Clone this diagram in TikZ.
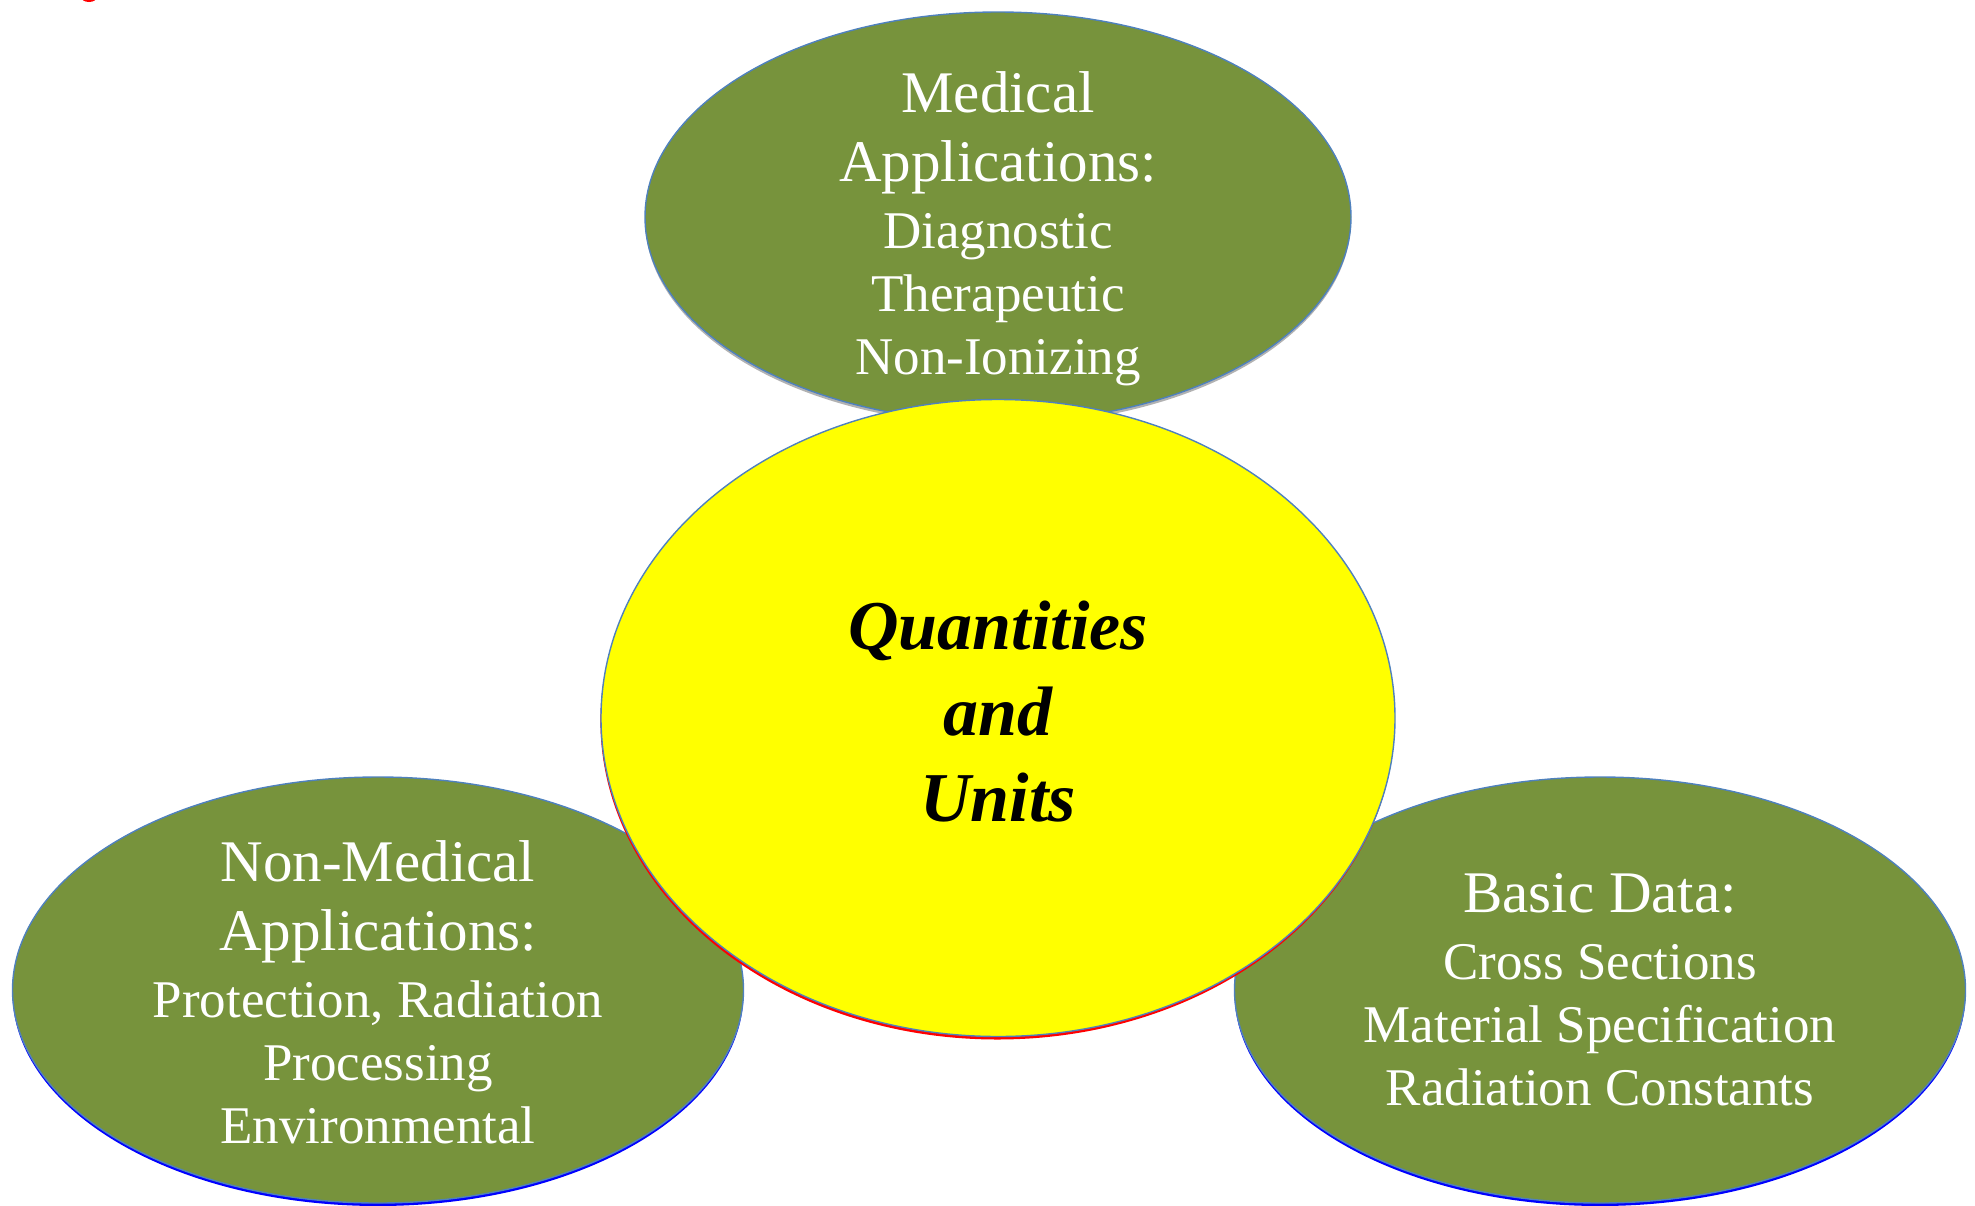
\documentclass[tikz,border=0pt]{standalone}
\usepackage{fontspec}
\setmainfont{Liberation Serif}
\usetikzlibrary{shapes.geometric,shadows}
\definecolor{olive}{HTML}{77933C}
\definecolor{edgeblue}{HTML}{4F81BD}
\definecolor{coreyellow}{HTML}{FFFF00}
\begin{document}
\begin{tikzpicture}[x=0.5pt, y=-0.5pt,
    topic/.style={ellipse, draw=edgeblue, line width=0.7pt, fill=olive,
        inner sep=0pt, outer sep=0pt},
    topictext/.style={text=white, align=center, inner sep=0pt,
        font=\fontsize{26.5}{31.5}\selectfont},
    core/.style={ellipse, draw=edgeblue, line width=0.7pt, fill=coreyellow,
        inner sep=0pt, outer sep=0pt, minimum width=397pt, minimum height=318.5pt,
        drop shadow={shadow xshift=-0.3pt, shadow yshift=-1.5pt, fill=red, opacity=1}},
    coretext/.style={align=center, inner sep=0pt,
        font=\fontsize{35}{43}\selectfont\bfseries\itshape}
]
    \useasboundingbox (0,0) rectangle (1975,1205);
    \begin{scope}
        \clip (0,0) rectangle (1975,1205);
        \fill[red] (89,-3) ellipse (8 and 5);
    \end{scope}

    \node[topic, minimum width=353pt, minimum height=205pt,
        drop shadow={shadow xshift=0pt, shadow yshift=-1.5pt, fill=gray!60, opacity=1}] (medical) at (998,217) {};
    \node[topic, minimum width=365.5pt, minimum height=213pt,
        drop shadow={shadow xshift=0pt, shadow yshift=-1.5pt, fill=blue, opacity=1}] (nonmedical) at (378,990) {};
    \node[topic, minimum width=365.5pt, minimum height=213pt,
        drop shadow={shadow xshift=0pt, shadow yshift=-1.5pt, fill=blue, opacity=1}] (basic) at (1600,990) {};
    \node[core] (quantities) at (998,718) {};

    \node[topictext] (medicaltext) at ([yshift=-6pt]medical.center)
        {{\fontsize{29.5}{31.5}\selectfont Medical}\\[3pt]{\fontsize{29.5}{31.5}\selectfont Applications:}\\[2pt]
         Diagnostic\\Therapeutic\\Non-Ionizing};
    \node[topictext] (nonmedicaltext) at ([yshift=-1pt]nonmedical.center)
        {{\fontsize{29.5}{31.5}\selectfont Non-Medical}\\[3pt]{\fontsize{29.5}{31.5}\selectfont Applications:}\\[2pt]
         Protection, Radiation\\Processing\\Environmental};
    \node[topictext] (basictext) at (basic.center)
        {{\fontsize{29.5}{31.5}\selectfont Basic Data:}\\[2pt]
         Cross Sections\\Material Specification\\Radiation Constants};
    \node[coretext] (quantitiestext) at ([yshift=3pt]quantities.center) {Quantities\\and\\Units};
\end{tikzpicture}
\end{document}
